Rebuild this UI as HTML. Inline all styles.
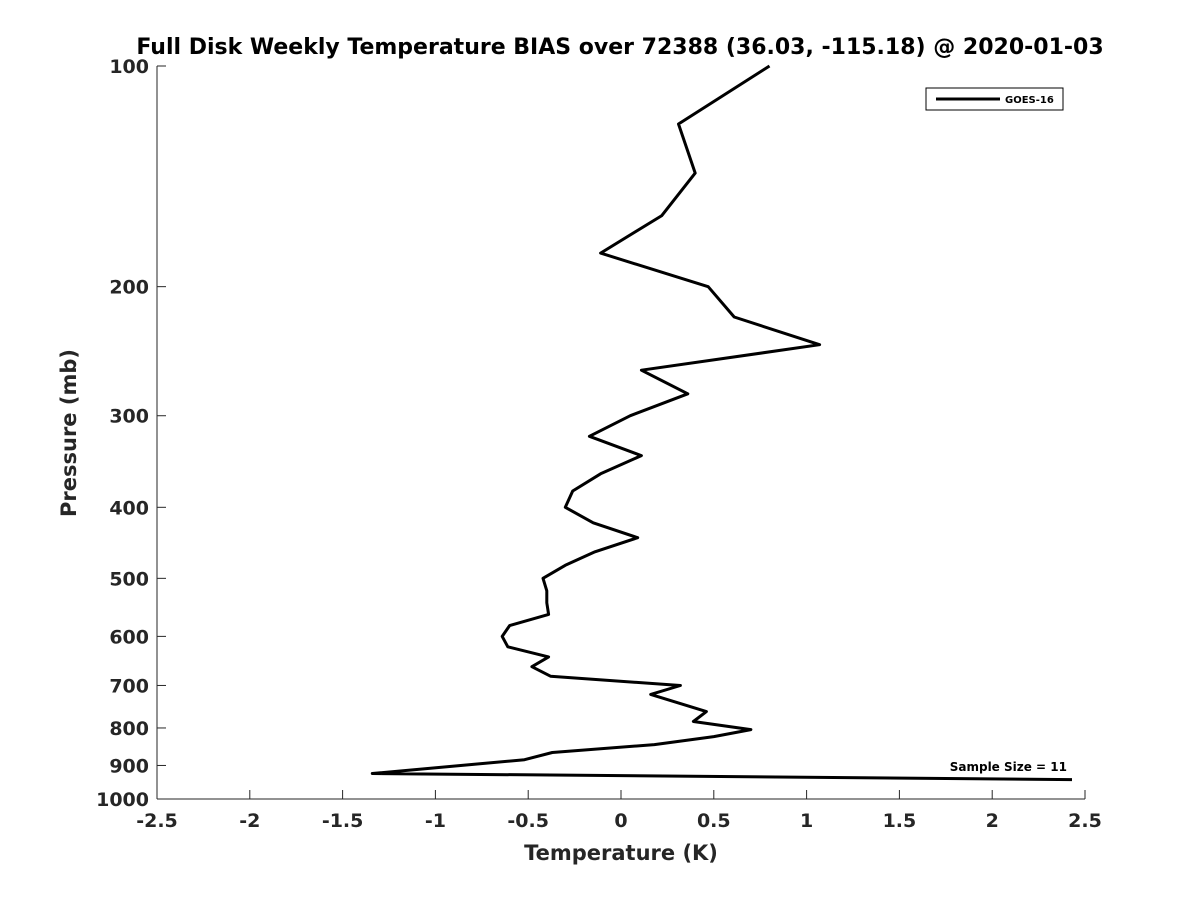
<!DOCTYPE html>
<html><head><meta charset="utf-8"><style>
body{margin:0;background:#fff;}
svg text{font-family:"DejaVu Sans","Liberation Sans",sans-serif;font-weight:bold;fill:#262626;}
</style></head><body>
<svg id="chart" width="1200" height="900" viewBox="0 0 1200 900" xmlns="http://www.w3.org/2000/svg">
<rect width="1200" height="900" fill="#fff"/>
<text x="620" y="54" text-anchor="middle" font-size="22" style="fill:#000">Full Disk Weekly Temperature BIAS over 72388 (36.03, -115.18) @ 2020-01-03</text>
<g id="axes"></g>
<polyline id="series" fill="none" stroke="#000" stroke-width="3" stroke-linejoin="round"/>
<g>
<rect x="926" y="88" width="137" height="22" fill="#fff" stroke="#000" stroke-width="1"/>
<line x1="936" y1="99" x2="1000" y2="99" stroke="#000" stroke-width="3"/>
<text x="1005" y="103" font-size="10" style="fill:#000">GOES-16</text>
</g>
<text x="1067" y="771" text-anchor="end" font-size="12" style="fill:#000">Sample Size = 11</text>
<text x="621" y="860" text-anchor="middle" font-size="21">Temperature (K)</text>
<text transform="translate(76,433) rotate(-90)" text-anchor="middle" font-size="21">Pressure (mb)</text>
</svg>
<script>
const pressures=[100,120,140,160,180,200,220,240,260,280,300,320,340,360,380,400,420,440,460,480,500,520,540,560,580,600,620,640,660,680,700,720,760,784,804,822,843,864,884,923,941];
const bias=[0.80,0.31,0.40,0.22,-0.11,0.47,0.61,1.07,0.11,0.36,0.05,-0.17,0.11,-0.11,-0.26,-0.30,-0.15,0.09,-0.14,-0.30,-0.42,-0.40,-0.40,-0.39,-0.60,-0.64,-0.61,-0.39,-0.48,-0.38,0.32,0.16,0.46,0.39,0.70,0.50,0.18,-0.37,-0.52,-1.34,2.43];
const xTicks=[-2.5,-2,-1.5,-1,-0.5,0,0.5,1,1.5,2,2.5];
const yTicks=[100,200,300,400,500,600,700,800,900,1000];
const L=157,R=1085,T=66,B=799;
const xs=v=>L+(v+2.5)/5*(R-L);
const ys=p=>T+(Math.log10(p)-2)*(B-T);
const NS='http://www.w3.org/2000/svg';
const ax=document.getElementById('axes');
function mk(t,a){const e=document.createElementNS(NS,t);for(const k in a)e.setAttribute(k,a[k]);ax.appendChild(e);return e;}
let e=mk('line',{x1:L,y1:B,x2:R,y2:B,stroke:'#262626','stroke-width':1});


e=mk('line',{x1:L,y1:T,x2:L,y2:B,stroke:'#262626','stroke-width':1});


xTicks.forEach(v=>{
 const x=xs(v);
 mk('line',{x1:x,y1:B,x2:x,y2:B-9,stroke:'#262626'});
 const t=mk('text',{x:x,y:B+28,'text-anchor':'middle','font-size':19});
 t.textContent=String(v);
 
 
});
yTicks.forEach(p=>{
 const y=ys(p);
 mk('line',{x1:L,y1:y,x2:L+9,y2:y,stroke:'#262626'});
 const t=mk('text',{x:L-8,y:y+7,'text-anchor':'end','font-size':19});
 t.textContent=String(p);
 
 
});
document.getElementById('series').setAttribute('points',pressures.map((p,i)=>xs(bias[i]).toFixed(1)+','+ys(p).toFixed(1)).join(' '));
</script>
</body></html>
